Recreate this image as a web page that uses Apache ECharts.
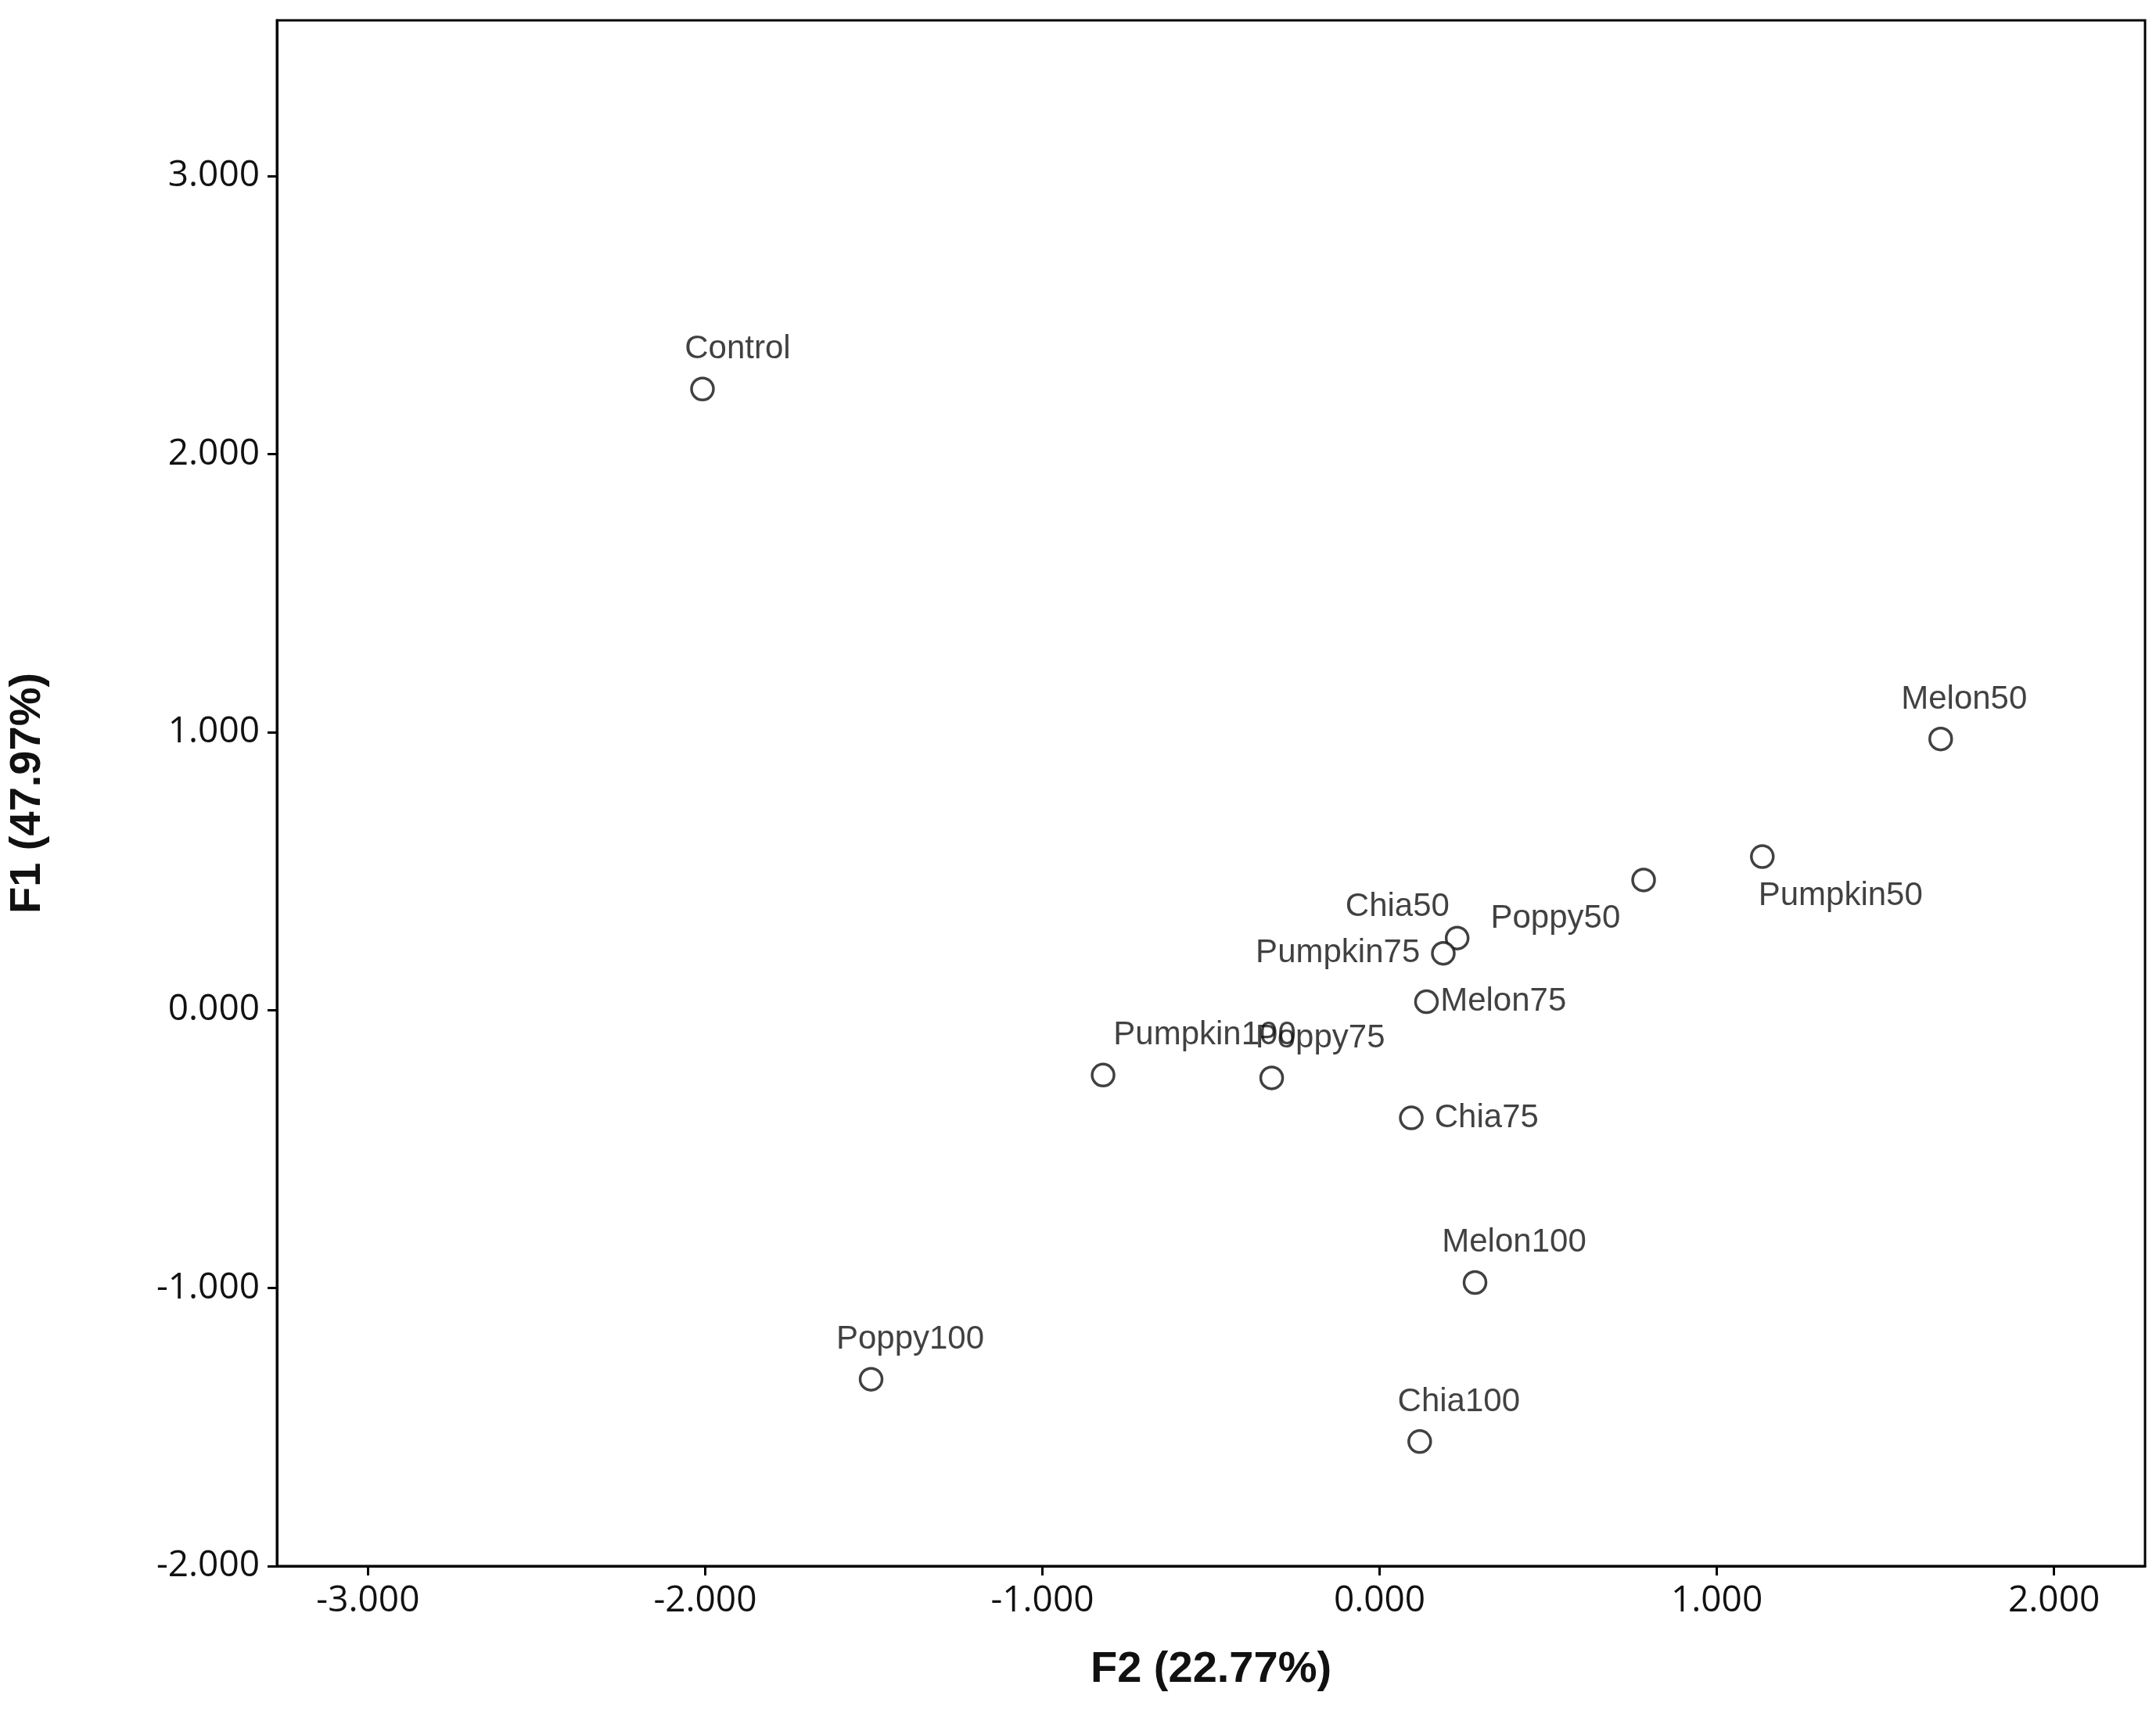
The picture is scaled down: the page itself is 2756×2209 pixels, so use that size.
<!DOCTYPE html>
<html><head><meta charset="utf-8">
<script src="https://cdn.jsdelivr.net/npm/echarts@6/dist/echarts.min.js"></script>
<style>html,body{margin:0;background:#fff}#c{width:2756px;height:2209px}</style>
</head><body><div id="c"></div>
<script>
const names = ['Control','Melon50','Pumpkin50','Poppy50','Chia50','Pumpkin75','Melon75','Pumpkin100','Poppy75','Chia75','Melon100','Poppy100','Chia100'];
const f2 = [-2.008,1.664,1.135,0.783,0.230,0.189,0.139,-0.820,-0.320,0.094,0.283,-1.508,0.119];
const f1 = [2.234,0.975,0.552,0.468,0.259,0.204,0.030,-0.234,-0.244,-0.388,-0.980,-1.328,-1.552];
const xTicks = [-3,-2,-1,0,1,2];
const yTicks = [-2,-1,0,1,2,3];
const labelPlace = {
  Control:{position:'top',offset:[45,0]}, Melon50:{position:'top',offset:[30,0]}, Pumpkin50:{position:'bottom',offset:[100,0]},
  Poppy50:{position:'left',offset:[0,50]}, Chia50:{position:'left',offset:[20,-40]}, Pumpkin75:{position:'left'},
  Melon75:{position:'right',distance:2}, Pumpkin100:{position:'top',offset:[130,0]}, Poppy75:{position:'top',offset:[62,0]},
  Chia75:{position:'right'}, Melon100:{position:'top',offset:[50,0]}, Poppy100:{position:'top',offset:[50,0]}, Chia100:{position:'top',offset:[50,0]}
};
const data = names.map((n,i)=>({value:[f2[i],f1[i]],name:n,label:Object.assign({show:true,formatter:n,distance:14},labelPlace[n])}));
const fmt = v => v.toFixed(3);
const chart = echarts.init(document.getElementById('c'));
chart.setOption({
  animation:false,
  grid:{left:350,right:14,top:26,bottom:207,show:true,borderColor:'#000',borderWidth:3},
  xAxis:{type:'value',min:-3.27,max:2.27,name:'F2 (22.77%)',nameLocation:'middle',nameGap:105,
    nameTextStyle:{fontFamily:'Liberation Sans',fontWeight:'bold',fontSize:56,color:'#111'},
    axisLine:{onZero:false,lineStyle:{color:'#000',width:3}},splitLine:{show:false},
    axisTick:{show:true,length:12,lineStyle:{color:'#000',width:3},customValues:xTicks},
    axisLabel:{customValues:xTicks,formatter:fmt,fontFamily:'Open Sans',fontSize:46,color:'#111',margin:22}},
  yAxis:{type:'value',min:-2,max:3.56,name:'F1 (47.97%)',nameLocation:'middle',nameGap:290,
    nameTextStyle:{fontFamily:'Liberation Sans',fontWeight:'bold',fontSize:56,color:'#111'},
    axisLine:{onZero:false,lineStyle:{color:'#000',width:3}},splitLine:{show:false},
    axisTick:{show:true,length:12,lineStyle:{color:'#000',width:3},customValues:yTicks},
    axisLabel:{customValues:yTicks,formatter:fmt,fontFamily:'Open Sans',fontSize:46,color:'#111',margin:22}},
  series:[{type:'scatter',data:data,symbol:'circle',symbolSize:28,
    itemStyle:{color:'#fff',borderColor:'#111',borderWidth:3.5},
    label:{fontFamily:'Liberation Sans',fontSize:42,color:'#111'}}]
});
</script></body></html>
